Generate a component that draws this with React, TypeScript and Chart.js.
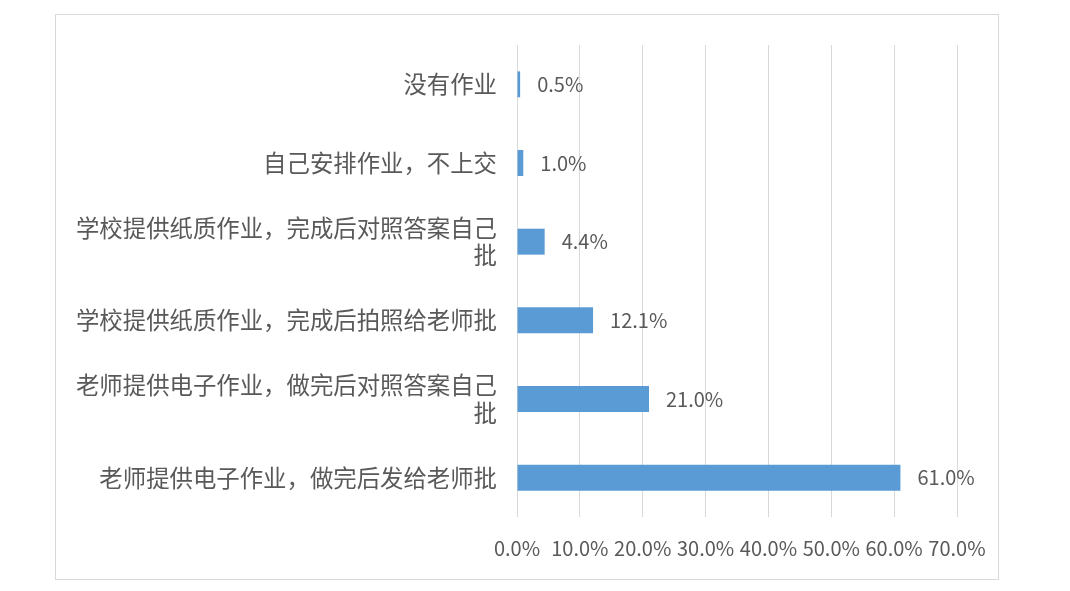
import React, { useEffect, useRef } from "react";
import { Chart, registerables } from "chart.js";

Chart.register(...registerables);

const categories: (string | string[])[] = [
  "没有作业",
  "自己安排作业，不上交",
  ["学校提供纸质作业，完成后对照答案自己", "批"],
  "学校提供纸质作业，完成后拍照给老师批",
  ["老师提供电子作业，做完后对照答案自己", "批"],
  "老师提供电子作业，做完后发给老师批",
];
const values: number[] = [0.5, 1.0, 4.4, 12.1, 21.0, 61.0];
const axisMin = 0;
const axisMax = 70;
const axisStep = 10;

const FONT = "'Noto Sans CJK SC', 'Noto Sans', sans-serif";
const TEXT = "#595959";

const dataLabels = {
  id: "dataLabels",
  afterDatasetsDraw(chart: any) {
    const ctx = chart.ctx;
    const meta = chart.getDatasetMeta(0);
    ctx.save();
    ctx.font = `20px ${FONT}`;
    ctx.fillStyle = TEXT;
    ctx.textAlign = "left";
    ctx.textBaseline = "middle";
    meta.data.forEach((bar: any, i: number) => {
      ctx.fillText(values[i].toFixed(1) + "%", bar.x + 17, bar.y);
    });
    ctx.restore();
  },
};

export default function App() {
  const ref = useRef<HTMLCanvasElement>(null);
  useEffect(() => {
    if (!ref.current) return;
    const chart = new Chart(ref.current, {
      type: "bar",
      data: {
        labels: categories,
        datasets: [
          {
            data: values,
            backgroundColor: "#5B9BD5",
            borderWidth: 0,
            barPercentage: 0.33,
            categoryPercentage: 1,
          },
        ],
      },
      options: {
        indexAxis: "y",
        responsive: false,
        animation: false,
        layout: { padding: { top: 30, right: 41, left: 0, bottom: 0 } },
        plugins: {
          legend: { display: false },
          tooltip: { enabled: false },
          title: { display: false },
        },
        scales: {
          x: {
            min: axisMin,
            max: axisMax,
            grid: { color: "#D9D9D9", lineWidth: 1, drawTicks: false },
            border: { display: false },
            ticks: {
              stepSize: axisStep,
              padding: 19,
              color: TEXT,
              font: { family: FONT, size: 20 },
              maxRotation: 0,
              autoSkip: false,
              callback: (v: any) => Number(v).toFixed(1) + "%",
            },
            afterFit: (s: any) => {
              s.height = 62;
              s.paddingLeft = 0;
              s.paddingRight = 0;
            },
          },
          y: {
            grid: { display: false, drawTicks: false },
            border: { display: false },
            ticks: {
              padding: 20,
              color: TEXT,
              font: { family: FONT, size: 23.4, lineHeight: 1.18 },
              autoSkip: false,
            },
            afterFit: (s: any) => {
              s.width = 461;
              s.paddingTop = 0;
              s.paddingBottom = 0;
            },
          },
        },
      },
      plugins: [dataLabels],
    });
    return () => chart.destroy();
  }, []);

  return (
    <div
      style={{
        position: "absolute",
        left: 55,
        top: 14,
        width: 944,
        height: 566,
        boxSizing: "border-box",
        border: "1px solid #D9D9D9",
        background: "#fff",
      }}
    >
      <canvas ref={ref} width={942} height={564} style={{ display: "block" }} />
    </div>
  );
}
